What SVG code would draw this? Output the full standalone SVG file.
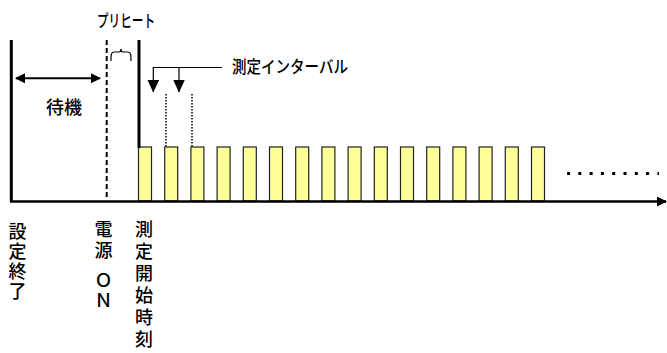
<svg xmlns="http://www.w3.org/2000/svg" width="667" height="353" viewBox="0 0 667 353">
<defs>
<style>
.t{font-family:"Noto Sans CJK JP","Noto Sans",sans-serif;fill:#000;font-weight:500;}
.v{writing-mode:vertical-rl;text-orientation:upright;}
.box{fill:#FFFF99;stroke:#222;stroke-width:1.2;}
.ln{stroke:#000;fill:none;}
</style>
<marker id="ah" markerWidth="10" markerHeight="10" refX="9" refY="5" orient="auto" markerUnits="userSpaceOnUse">
<path d="M0,0 L10,5 L0,10 Z" fill="#000"/>
</marker>
<marker id="ahs" markerWidth="10" markerHeight="10" refX="9" refY="5" orient="auto-start-reverse" markerUnits="userSpaceOnUse">
<path d="M0,0 L10,5 L0,10 Z" fill="#000"/>
</marker>
<marker id="dn" markerWidth="12" markerHeight="13" refX="6" refY="12.5" orient="0" markerUnits="userSpaceOnUse">
<path d="M0,0 L12,0 L6,13 Z" fill="#000"/>
</marker>
</defs>
<rect width="667" height="353" fill="#fff"/>

<g id="boxes">
<rect class="box" x="138.5" y="147" width="13" height="54"/>
<rect class="box" x="164.7" y="147" width="13" height="54"/>
<rect class="box" x="190.9" y="147" width="13" height="54"/>
<rect class="box" x="217.1" y="147" width="13" height="54"/>
<rect class="box" x="243.3" y="147" width="13" height="54"/>
<rect class="box" x="269.5" y="147" width="13" height="54"/>
<rect class="box" x="295.7" y="147" width="13" height="54"/>
<rect class="box" x="321.9" y="147" width="13" height="54"/>
<rect class="box" x="348.1" y="147" width="13" height="54"/>
<rect class="box" x="374.3" y="147" width="13" height="54"/>
<rect class="box" x="400.5" y="147" width="13" height="54"/>
<rect class="box" x="426.7" y="147" width="13" height="54"/>
<rect class="box" x="452.9" y="147" width="13" height="54"/>
<rect class="box" x="479.1" y="147" width="13" height="54"/>
<rect class="box" x="505.3" y="147" width="13" height="54"/>
<rect class="box" x="531.5" y="147" width="13" height="54"/>
</g>

<g id="connectors">
<line class="ln" x1="11.3" y1="40" x2="11.3" y2="202" stroke-width="3"/>
<line class="ln" x1="139" y1="40" x2="139" y2="148" stroke-width="3"/>
<line class="ln" x1="106.7" y1="40" x2="106.7" y2="198" stroke-width="2" stroke-dasharray="5,3"/>
<line class="ln" x1="10" y1="201.5" x2="666" y2="201.5" stroke-width="2.5" marker-end="url(#ah)"/>
<line class="ln" x1="16" y1="78.3" x2="100" y2="78.3" stroke-width="2" marker-start="url(#ahs)" marker-end="url(#ah)"/>
<path class="ln" d="M111,61 C111,55 111,52 114,52 L119,52 C120.5,52 121,50.5 121,49 C121,50.5 121.5,52 123,52 L128,52 C131,52 131,55 131,61" stroke-width="1.2"/>
<polyline class="ln" points="222,67.5 153.3,67.5 153.3,92" stroke-width="1.2" marker-end="url(#dn)"/>
<line class="ln" x1="179" y1="67.5" x2="179" y2="92" stroke-width="1.2" marker-end="url(#dn)"/>
<line class="ln" x1="166" y1="94" x2="166" y2="147" stroke-width="1.5" stroke-dasharray="1.5,1.5" stroke="#333"/>
<line class="ln" x1="192" y1="94" x2="192" y2="147" stroke-width="1.5" stroke-dasharray="1.5,1.5" stroke="#333"/>
<line class="ln" x1="567" y1="173.5" x2="659" y2="173.5" stroke-width="3" stroke-dasharray="3,8.3" stroke="#1a2a4a"/>
</g>

<g id="labels">
<text class="t" x="97" y="26.5" font-size="17" textLength="58" lengthAdjust="spacingAndGlyphs">プリヒート</text>
<text class="t" x="232" y="73" font-size="17" textLength="116" lengthAdjust="spacingAndGlyphs">測定インターバル</text>
<text class="t" x="64" y="114" font-size="18" text-anchor="middle">待機</text>
<text id="lbl-end" class="t v" x="17.5" y="222" font-size="18" letter-spacing="2">設定終了</text>
<text id="lbl-power" class="t v" x="103.5" y="220" font-size="18" letter-spacing="3">電源</text>
<text id="lbl-on" class="t v" x="103.5" y="271" font-size="18" letter-spacing="2">ＯＮ</text>
<text id="lbl-start" class="t v" x="144" y="220" font-size="18" letter-spacing="4">測定開始時刻</text>
</g>
</svg>
